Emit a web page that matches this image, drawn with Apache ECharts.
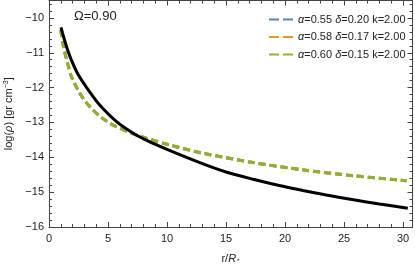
<!DOCTYPE html>
<html><head><meta charset="utf-8">
<script src="https://cdn.jsdelivr.net/npm/echarts@6/dist/echarts.min.js"></script>
<style>html,body{margin:0;padding:0;background:#fff}#c{width:415px;height:267px}</style>
</head><body><div id="c"></div>
<script>
const blackR = [1.02,1.21,1.55,1.97,2.48,3.4,4.3,5.7,7.1,8.5,10.2,13.0,15.0,17.3,19.5,21.5,23.5,25.8,28.0,30.4];
const blackY = [-10.27,-10.51,-10.89,-11.27,-11.63,-12.1,-12.5,-12.97,-13.30,-13.55,-13.80,-14.18,-14.42,-14.63,-14.81,-14.95,-15.08,-15.22,-15.34,-15.46];
const modelR = [1.0,1.07,1.27,1.55,1.86,2.0,2.5,3.0,3.5,4.3,5.0,5.7,7.1,8.5,10.25,13.0,17.3,21.5,25.8,30.3];
const modelY = [-10.35,-10.51,-10.89,-11.27,-11.65,-11.76,-12.1,-12.36,-12.56,-12.82,-12.99,-13.12,-13.32,-13.48,-13.65,-13.88,-14.15,-14.36,-14.53,-14.67];
const legendNames = ['α=0.55 δ=0.20 k=2.00','α=0.58 δ=0.17 k=2.00','α=0.60 δ=0.15 k=2.00'];
const colors = ['#5E81B5','#E19C24','#8FB032'];
const xTicks = [0,5,10,15,20,25,30];
const yTicks = [-16,-15,-14,-13,-12,-11,-10];

const pair = (a,b)=>a.map((v,i)=>[v,b[i]]);
const minus = v => String(v).replace('-', '\u2212');
const axisCommon = {
  type:'value',
  axisLine:{show:true,onZero:false,lineStyle:{color:'#444',width:1}},
  axisTick:{show:true,inside:true,length:5,lineStyle:{color:'#444'}},
  minorTick:{show:true,splitNumber:5,length:3,lineStyle:{color:'#444'}},
  splitLine:{show:false},
};
const chart = echarts.init(document.getElementById('c'));
const modelSeries = legendNames.map((n,i)=>({
  name:n, type:'line', data:pair(modelR,modelY), smooth:0.3, showSymbol:false, symbol:'none',
  lineStyle:{color:colors[i],width:3,type:[7,4]}, itemStyle:{color:colors[i]}, z:2+i
}));
chart.setOption({
  animation:false,
  textStyle:{fontFamily:'Liberation Sans'},
  grid:{left:49,right:2.5,top:0.5,bottom:40,outerBoundsMode:'none',containLabel:false},
  xAxis:[
    Object.assign({},axisCommon,{min:0,max:30.8,interval:5,position:'bottom',
      name:'r/{i|R}{s|\u22C6}',nameLocation:'middle',nameGap:26,
      nameTextStyle:{fontSize:11,color:'#222',rich:{i:{fontStyle:'italic',fontSize:11},s:{fontSize:7,verticalAlign:'bottom',padding:[4,0,0,0]}}},
      axisLabel:{fontSize:11,color:'#222',margin:6,showMaxLabel:false,
        formatter:v=>xTicks.includes(v)?minus(v):''}}),
    Object.assign({},axisCommon,{min:0,max:30.8,interval:5,position:'top',axisLabel:{show:false}})
  ],
  yAxis:[
    Object.assign({},axisCommon,{min:-16,max:-9.5,interval:1,position:'left',
      name:'log({i|ρ}) [gr cm{s|\u22123}]',nameLocation:'middle',nameGap:33,nameRotate:90,
      nameTextStyle:{fontSize:11,color:'#222',rich:{i:{fontStyle:'italic',fontSize:11},s:{fontSize:7,verticalAlign:'top',padding:[0,0,5,0]}}},
      axisLabel:{fontSize:11,color:'#222',margin:5,showMaxLabel:false,
        formatter:v=>yTicks.includes(v)?minus(v):''}}),
    Object.assign({},axisCommon,{min:-16,max:-9.5,interval:1,position:'right',axisLabel:{show:false}})
  ],
  legend:{
    data:legendNames, orient:'vertical', left:264, top:9, itemWidth:24, itemHeight:12, itemGap:6.5,
    icon:'path://M0,5L10,5L10,7L0,7Z M14,5L24,5L24,7L14,7Z',
    textStyle:{fontSize:11,color:'#222',rich:{i:{fontStyle:'italic',fontSize:11,color:'#222'}}},
    formatter:n=>n.replace('α','{i|α}').replace('δ','{i|δ}')
  },
  graphic:[{type:'text',left:74,top:10,style:{text:'Ω=0.90',fontSize:13,fill:'#222',fontFamily:'Liberation Sans'}}],
  series:[...modelSeries,
    {name:'data',type:'line',data:pair(blackR,blackY),smooth:0.3,showSymbol:false,symbol:'none',
     lineStyle:{color:'#000',width:3},z:6}]
});
</script></body></html>
